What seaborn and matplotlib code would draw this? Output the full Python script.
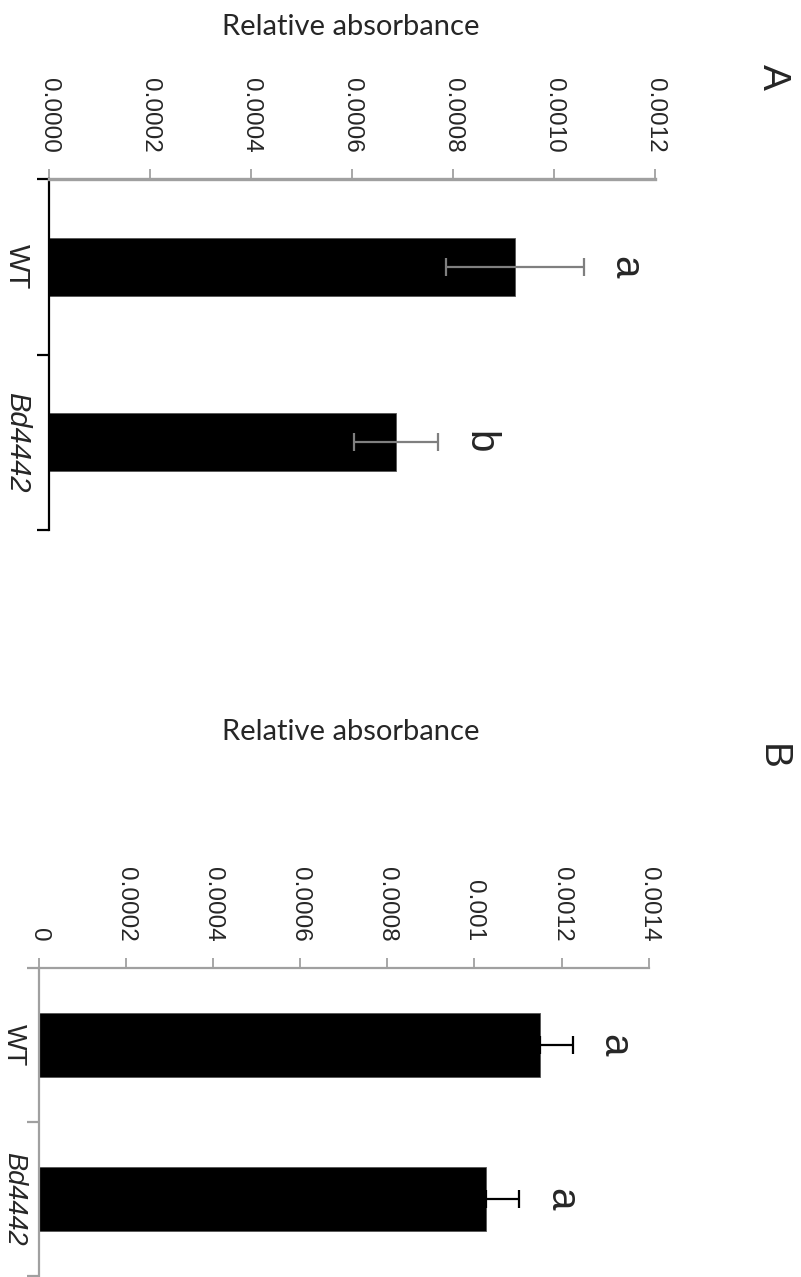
import matplotlib
matplotlib.use("Agg")
import matplotlib.pyplot as plt
import seaborn as sns
import pandas as pd

W, H = 801, 1277

genotypes = ["WT", "Bd4442"]

# Panel A
abs_a = [0.000922, 0.000687]
err_a = [0.000136, 0.000083]
letters_a = ["a", "b"]
ticks_a = [0.0, 0.0002, 0.0004, 0.0006, 0.0008, 0.0010, 0.0012]
ticklabels_a = ["0.0000", "0.0002", "0.0004", "0.0006", "0.0008", "0.0010", "0.0012"]

# Panel B
abs_b = [0.001150, 0.001027]
err_b = [0.000076, 0.000076]
letters_b = ["a", "a"]
ticks_b = [0.0, 0.0002, 0.0004, 0.0006, 0.0008, 0.0010, 0.0012, 0.0014]
ticklabels_b = ["0", "0.0002", "0.0004", "0.0006", "0.0008", "0.001", "0.0012", "0.0014"]

sns.set_style("white")
plt.rcParams["font.family"] = "sans-serif"
plt.rcParams["font.sans-serif"] = ["Liberation Sans", "DejaVu Sans"]

ARIAL = ["Liberation Sans", "DejaVu Sans"]
GRAY = "#a0a0a0"


def px_box(left, top, right, bottom):
    return [left / W, 1 - bottom / H, (right - left) / W, (bottom - top) / H]


def draw_panel(ax, values, errs, letters, ticks, ticklabels, bar_h,
               err_color, upper_only, cat_color, val_lw, cat_size, cat_pad):
    df = pd.DataFrame({"genotype": genotypes, "absorbance": values})
    sns.barplot(data=df, x="absorbance", y="genotype", orient="h",
                color="black", width=bar_h, errorbar=None, ax=ax,
                edgecolor="#555555", linewidth=0.6)
    pos = list(range(len(genotypes)))
    if upper_only:
        xerr = [[0] * len(errs), errs]
    else:
        xerr = errs
    ax.errorbar(values, pos, xerr=xerr, fmt="none", ecolor=err_color,
                elinewidth=1.6, capsize=6.5, capthick=1.6, zorder=5)
    for i, (v, e, l) in enumerate(zip(values, errs, letters)):
        ax.annotate(l, xy=(v + e, i), xytext=(22, 0), textcoords="offset points",
                    rotation=270, rotation_mode="anchor", ha="center",
                    va="baseline", fontsize=29, family=ARIAL)

    ax.set_xlim(ticks[0], ticks[-1])
    ax.set_ylim(len(genotypes) - 0.5, -0.5)
    ax.xaxis.tick_top()
    ax.set_xticks(ticks)
    ax.set_xticklabels(ticklabels, rotation=270, fontsize=17.5, family=ARIAL)
    ax.tick_params(axis="x", direction="out", length=7, width=1.3,
                   color=GRAY, pad=12)
    ax.set_yticks(pos)
    ax.set_yticklabels(genotypes, rotation=270, fontsize=cat_size,
                       family=ARIAL, va="center", ha="right")
    ax.get_yticklabels()[1].set_style("italic")
    ax.set_yticks([-0.5, 0.5, 1.5], minor=True)
    ax.tick_params(axis="y", which="major", length=0, pad=cat_pad)
    ax.tick_params(axis="y", which="minor", direction="out", length=9,
                   width=1.6, color=cat_color, left=True)
    ax.set_xlabel("")
    ax.set_ylabel("")
    for s in ["right", "bottom"]:
        ax.spines[s].set_visible(False)
    ax.spines["top"].set_color(GRAY)
    ax.spines["top"].set_linewidth(val_lw)
    ax.spines["left"].set_color(cat_color)
    ax.spines["left"].set_linewidth(1.6)


fig = plt.figure(figsize=(W / 100, H / 100), dpi=100)

ax_a = fig.add_axes(px_box(48.7, 179, 655.4, 530))
draw_panel(ax_a, abs_a, err_a, letters_a, ticks_a, ticklabels_a, 0.33,
           "#7f7f7f", False, "black", 2.4, 21, 13)

ax_b = fig.add_axes(px_box(38.5, 968, 648.7, 1276))
draw_panel(ax_b, abs_b, err_b, letters_b, ticks_b, ticklabels_b, 0.42,
           "black", True, GRAY, 1.6, 19.5, 8.5)

for y_base in [35, 740]:
    fig.text(351 / W, 1 - y_base / H, "Relative absorbance", ha="center",
             va="baseline", fontsize=21, family=["Lato", "DejaVu Sans"])

fig.text(773 / W, 1 - 77 / H, "A", rotation=270, ha="center", va="center",
         fontsize=28, family=ARIAL)
fig.text(772 / W, 1 - 757 / H, "B", rotation=270, ha="center", va="center",
         fontsize=28, family=ARIAL)

fig.savefig("out.png", dpi=100)
